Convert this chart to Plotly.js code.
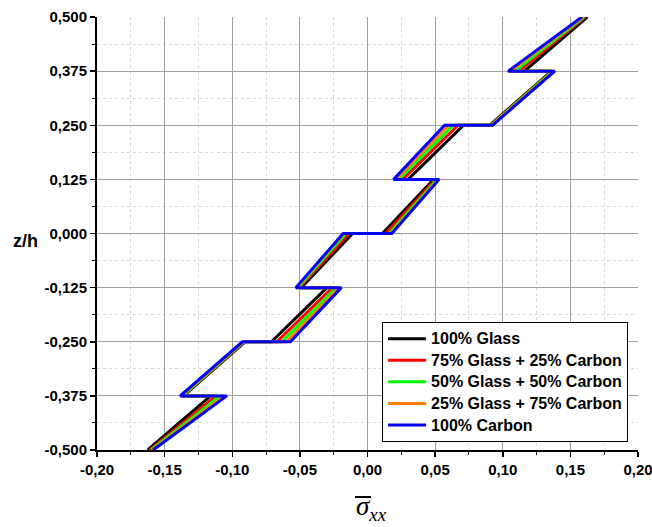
<!DOCTYPE html>
<html>
<head>
<meta charset="utf-8">
<script src="https://cdn.plot.ly/plotly-3.0.1.min.js"></script>
<style>
html,body{margin:0;padding:0;background:#fff;}
#chart{width:652px;height:527px;}
</style>
</head>
<body>
<div id="chart"></div>
<script>
// Through-thickness positions (z/h) of the layer interfaces, each interface listed twice (jump)
const zh = [-0.5, -0.375, -0.375, -0.25, -0.25, -0.125, -0.125, 0, 0, 0.125, 0.125, 0.25, 0.25, 0.375, 0.375, 0.5];

// Normalised stress values
const glass100   = [-0.1625, -0.1160, -0.1360, -0.0905, -0.0710, -0.0300, -0.0490, -0.0110, 0.0110, 0.0490, 0.0300, 0.0710, 0.0905, 0.1360, 0.1160, 0.1625];
const glass75c25 = [-0.1610, -0.1120, -0.1365, -0.0910, -0.0670, -0.0260, -0.0505, -0.0135, 0.0135, 0.0505, 0.0260, 0.0670, 0.0910, 0.1365, 0.1120, 0.1610];
const glass50c50 = [-0.1600, -0.1090, -0.1370, -0.0915, -0.0635, -0.0230, -0.0515, -0.0160, 0.0160, 0.0515, 0.0230, 0.0635, 0.0915, 0.1370, 0.1090, 0.1600];
const glass25c75 = [-0.1590, -0.1060, -0.1380, -0.0920, -0.0600, -0.0210, -0.0525, -0.0175, 0.0175, 0.0525, 0.0210, 0.0600, 0.0920, 0.1380, 0.1060, 0.1590];
const carbon100  = [-0.1585, -0.1040, -0.1385, -0.0925, -0.0570, -0.0193, -0.0530, -0.0180, 0.0180, 0.0530, 0.0193, 0.0570, 0.0925, 0.1385, 0.1040, 0.1585];

const seriesNames = ['100% Glass', '75% Glass + 25% Carbon', '50% Glass + 50% Carbon', '25% Glass + 75% Carbon', '100% Carbon'];
const seriesData = [glass100, glass75c25, glass50c50, glass25c75, carbon100];
const seriesColors = ['#000000', '#ff0000', '#00ff00', '#ff8000', '#0000ff'];

const xTickVals = [-0.20, -0.15, -0.10, -0.05, 0.00, 0.05, 0.10, 0.15, 0.20];
const xTickText = ['-0,20', '-0,15', '-0,10', '-0,05', '0,00', '0,05', '0,10', '0,15', '0,20'];
const yTickVals = [-0.5, -0.375, -0.25, -0.125, 0, 0.125, 0.25, 0.375, 0.5];
const yTickText = ['-0,500', '-0,375', '-0,250', '-0,125', '0,000', '0,125', '0,250', '0,375', '0,500'];

const traces = seriesData.map((vals, i) => ({
  x: vals,
  y: zh,
  type: 'scatter',
  mode: 'lines',
  name: '<span style="font-size:16px">' + seriesNames[i] + '</span>',
  line: {color: seriesColors[i], width: 3}
}));

const tickFont = {family: 'Liberation Sans, Arial, sans-serif', size: 15, color: '#000', weight: 'bold'};

const layout = {
  width: 652,
  height: 527,
  margin: {l: 97, r: 14, t: 17, b: 77},
  paper_bgcolor: '#fff',
  plot_bgcolor: '#fff',
  showlegend: true,
  legend: {
    x: 0.527, y: 0.296, xanchor: 'left', yanchor: 'top',
    bgcolor: '#fff', bordercolor: '#000', borderwidth: 1,
    itemwidth: 38,
    font: {family: 'Liberation Sans, Arial, sans-serif', size: 14.3, color: '#000', weight: 'bold'},
    tracegroupgap: 0
  },
  xaxis: {
    range: [-0.2, 0.2],
    tickmode: 'array', tickvals: xTickVals, ticktext: xTickText,
    ticks: 'outside', ticklen: 5, tickwidth: 1.5, tickcolor: '#000',
    ticklabeloverflow: 'allow',
    showline: true, linecolor: '#000', linewidth: 2, mirror: false,
    showgrid: true, gridcolor: '#a0a0a0', gridwidth: 1,
    zeroline: false,
    tickfont: tickFont,
    minor: {tickmode: 'linear', tick0: 0, dtick: 0.025, ticks: 'outside', ticklen: 3, tickcolor: '#000', tickwidth: 1,
            showgrid: true, gridcolor: '#d8d8d8', griddash: 'dot', gridwidth: 1}
  },
  yaxis: {
    range: [-0.5, 0.5],
    tickmode: 'array', tickvals: yTickVals, ticktext: yTickText,
    ticks: 'outside', ticklen: 5, tickwidth: 1.5, tickcolor: '#000',
    ticklabeloverflow: 'allow',
    showline: true, linecolor: '#000', linewidth: 2, mirror: false,
    showgrid: true, gridcolor: '#a0a0a0', gridwidth: 1,
    zeroline: false,
    tickfont: tickFont,
    minor: {tickmode: 'linear', tick0: 0, dtick: 0.0625, ticks: 'outside', ticklen: 3, tickcolor: '#000', tickwidth: 1,
            showgrid: true, gridcolor: '#d8d8d8', griddash: 'dot', gridwidth: 1}
  },
  shapes: [
    // overbar of the sigma in the x-axis title
    {type: 'line', xref: 'paper', yref: 'paper', layer: 'above',
     x0: (355 - 97) / 541, x1: (371 - 97) / 541, y0: (450 - 497) / 433, y1: (450 - 497) / 433,
     line: {color: '#000', width: 2}}
  ],
  annotations: [
    {text: '<b>z/h</b>', xref: 'paper', yref: 'paper', x: (25 - 97) / 541, y: (450 - 241) / 433,
     xanchor: 'center', yanchor: 'middle', showarrow: false,
     font: {family: 'Liberation Sans, Arial, sans-serif', size: 18, color: '#000'}},
    {text: '<i>σ</i><sub><i>xx</i></sub>', xref: 'paper', yref: 'paper', x: (371 - 97) / 541, y: (450 - 508) / 433,
     xanchor: 'center', yanchor: 'middle', showarrow: false,
     font: {family: 'Liberation Serif, Times New Roman, serif', size: 27, color: '#000'}}
  ]
};

Plotly.newPlot('chart', traces, layout, {displayModeBar: false, staticPlot: true});
</script>
</body>
</html>
